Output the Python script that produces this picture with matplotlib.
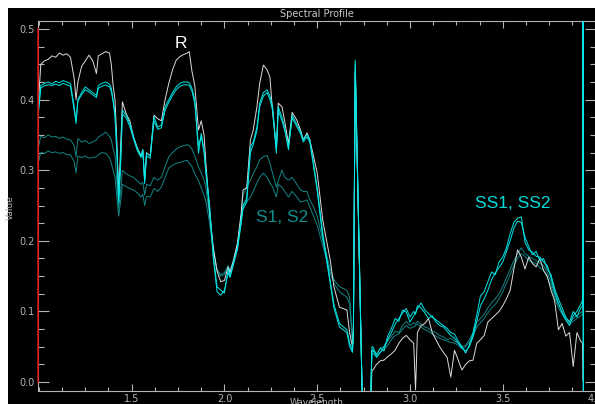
import matplotlib
matplotlib.use('Agg')
import matplotlib.pyplot as plt
from matplotlib.patches import Rectangle
from matplotlib.ticker import MultipleLocator, FormatStrFormatter

# --- Colours (ENVI-style spectral profile window) ---
COLOR_R      = '#dcdcdc'
COLOR_SS     = '#00e6e6'
COLOR_S      = '#138585'
COLOR_AXIS   = '#b4b4b4'
COLOR_CURSOR = '#d01010'
LINE_W       = 0.7

# --- Data: wavelength (micrometres) and reflectance per spectrum ---
wavelength = [
    # 1.0 - 2.07
    0.995, 1.01, 1.03, 1.05, 1.07, 1.09, 1.11, 1.13, 1.15, 1.17,
    1.19, 1.20, 1.21, 1.23, 1.25, 1.27, 1.29, 1.31, 1.32, 1.34,
    1.36, 1.38, 1.39, 1.40, 1.41, 1.42, 1.43, 1.44, 1.45, 1.47,
    1.49, 1.51, 1.53, 1.55, 1.56, 1.57, 1.58, 1.60, 1.62, 1.64,
    1.66, 1.68, 1.70, 1.72, 1.74, 1.76, 1.78, 1.80, 1.81, 1.825,
    1.84, 1.86, 1.875, 1.89, 1.90, 1.92, 1.94, 1.96, 1.98, 2.00,
    2.02, 2.03, 2.05, 2.07,
    # 2.09 - 2.69
    2.09, 2.10, 2.12, 2.14, 2.155, 2.175, 2.19, 2.21, 2.23, 2.245,
    2.26, 2.28, 2.29, 2.31, 2.325, 2.345, 2.365, 2.39, 2.41, 2.425,
    2.445, 2.46, 2.48, 2.50, 2.53, 2.57, 2.59, 2.62, 2.66, 2.675, 2.69,
    # spike around 2.7
    2.695, 2.705, 2.745, 2.785, 2.795,
    # 2.8 - 3.93
    2.80, 2.82, 2.84, 2.86, 2.88, 2.90, 2.92, 2.94, 2.96, 2.98,
    3.00, 3.02, 3.03, 3.04, 3.06, 3.08, 3.10, 3.12, 3.14, 3.16,
    3.18, 3.20, 3.22, 3.24, 3.26, 3.28, 3.30, 3.32, 3.34, 3.36,
    3.38, 3.40, 3.42, 3.44, 3.46, 3.48, 3.50, 3.52, 3.54, 3.56,
    3.58, 3.60, 3.62, 3.64, 3.66, 3.68, 3.70, 3.72, 3.74, 3.76,
    3.78, 3.80, 3.82, 3.84, 3.86, 3.88, 3.90, 3.92, 3.93,
    # bad bands at the end
    3.933, 3.935,
]

refl_R = [
    0.385, 0.45, 0.455, 0.457, 0.462, 0.46, 0.466, 0.463, 0.465, 0.46,
    0.43, 0.40, 0.425, 0.447, 0.455, 0.463, 0.455, 0.437, 0.462, 0.465,
    0.468, 0.466, 0.45, 0.42, 0.40, 0.34, 0.265, 0.33, 0.397, 0.38,
    0.37, 0.347, 0.332, 0.32, 0.329, 0.286, 0.325, 0.32, 0.378, 0.373,
    0.37, 0.40, 0.423, 0.442, 0.456, 0.461, 0.464, 0.466, 0.468, 0.44,
    0.42, 0.357, 0.37, 0.35, 0.31, 0.24, 0.19, 0.157, 0.142, 0.144,
    0.163, 0.155, 0.173, 0.197,
    0.239, 0.272, 0.275, 0.343, 0.357, 0.39, 0.423, 0.449, 0.442, 0.432,
    0.381, 0.329, 0.395, 0.39, 0.369, 0.338, 0.382, 0.371, 0.357, 0.343,
    0.353, 0.343, 0.32, 0.296, 0.229, 0.173, 0.135, 0.106, 0.102, 0.069, 0.05,
    0.08, 0.44, -0.05, -0.05, 0.017,
    0.017, 0.025, 0.03, 0.031, 0.036, 0.04, 0.045, 0.055, 0.062, 0.066,
    0.06, 0.055, -0.011, 0.07, 0.08, 0.083, 0.09, 0.07, 0.06, 0.05,
    0.042, 0.035, 0.007, 0.045, 0.031, 0.017, 0.025, 0.03, 0.031, 0.055,
    0.06, 0.066, 0.085, 0.09, 0.095, 0.1, 0.108, 0.118, 0.13, 0.16,
    0.187, 0.177, 0.16, 0.177, 0.168, 0.163, 0.175, 0.158, 0.15, 0.13,
    0.115, 0.074, 0.083, 0.065, 0.07, 0.022, 0.07, 0.058, 0.055,
    0.002, 0.002,
]

refl_SS1 = [
    0.38, 0.42, 0.423, 0.425, 0.422, 0.426, 0.424, 0.427, 0.425, 0.423,
    0.39, 0.366, 0.40, 0.41, 0.418, 0.414, 0.41, 0.406, 0.42, 0.423,
    0.425, 0.422, 0.416, 0.40, 0.38, 0.33, 0.26, 0.31, 0.385, 0.378,
    0.366, 0.347, 0.331, 0.32, 0.329, 0.281, 0.324, 0.32, 0.376, 0.361,
    0.364, 0.39, 0.40, 0.41, 0.418, 0.423, 0.425, 0.425, 0.424, 0.416,
    0.40, 0.324, 0.352, 0.329, 0.30, 0.25, 0.18, 0.135, 0.13, 0.126,
    0.16, 0.15, 0.17, 0.19,
    0.23, 0.25, 0.26, 0.333, 0.34, 0.361, 0.395, 0.41, 0.414, 0.405,
    0.39, 0.324, 0.39, 0.375, 0.36, 0.329, 0.378, 0.365, 0.355, 0.343,
    0.35, 0.343, 0.31, 0.275, 0.211, 0.144, 0.11, 0.083, 0.074, 0.055, 0.045,
    0.07, 0.456, -0.05, -0.05, 0.05,
    0.05, 0.038, 0.048, 0.044, 0.065, 0.076, 0.09, 0.086, 0.102, 0.099,
    0.085, 0.094, 0.098, 0.104, 0.112, 0.102, 0.097, 0.092, 0.088, 0.084,
    0.08, 0.076, 0.07, 0.068, 0.058, 0.05, 0.041, 0.052, 0.07, 0.095,
    0.122, 0.128, 0.142, 0.156, 0.152, 0.17, 0.177, 0.19, 0.21, 0.226,
    0.232, 0.234, 0.198, 0.187, 0.184, 0.178, 0.177, 0.17, 0.165, 0.148,
    0.128, 0.112, 0.098, 0.088, 0.08, 0.094, 0.1, 0.11, 0.116,
    0.9, -0.5,
]

refl_SS2 = [
    0.375, 0.416, 0.42, 0.421, 0.42, 0.422, 0.42, 0.423, 0.421, 0.419,
    0.385, 0.37, 0.398, 0.407, 0.414, 0.411, 0.407, 0.403, 0.416, 0.419,
    0.421, 0.418, 0.412, 0.397, 0.376, 0.325, 0.255, 0.305, 0.38, 0.374,
    0.362, 0.344, 0.328, 0.318, 0.326, 0.285, 0.32, 0.317, 0.37, 0.358,
    0.36, 0.385, 0.396, 0.406, 0.414, 0.419, 0.421, 0.421, 0.42, 0.412,
    0.395, 0.335, 0.348, 0.325, 0.295, 0.245, 0.175, 0.128, 0.123, 0.13,
    0.155, 0.148, 0.168, 0.188,
    0.225, 0.245, 0.255, 0.325, 0.336, 0.356, 0.39, 0.405, 0.41, 0.40,
    0.385, 0.33, 0.385, 0.37, 0.356, 0.333, 0.374, 0.362, 0.352, 0.34,
    0.347, 0.34, 0.306, 0.27, 0.205, 0.14, 0.105, 0.078, 0.07, 0.05, 0.042,
    0.065, 0.45, -0.05, -0.05, 0.045,
    0.045, 0.035, 0.042, 0.05, 0.06, 0.07, 0.082, 0.09, 0.098, 0.104,
    0.092, 0.1, 0.096, 0.108, 0.105, 0.098, 0.09, 0.094, 0.085, 0.08,
    0.078, 0.072, 0.066, 0.062, 0.055, 0.048, 0.044, 0.05, 0.064, 0.086,
    0.108, 0.118, 0.13, 0.145, 0.155, 0.162, 0.17, 0.185, 0.2, 0.218,
    0.228, 0.226, 0.205, 0.192, 0.18, 0.185, 0.172, 0.175, 0.16, 0.152,
    0.132, 0.118, 0.105, 0.092, 0.085, 0.1, 0.092, 0.105, 0.108,
    0.9, -0.5,
]

refl_S1 = [
    0.33, 0.348, 0.346, 0.35, 0.347, 0.348, 0.345, 0.347, 0.344, 0.343,
    0.335, 0.319, 0.345, 0.34, 0.342, 0.338, 0.34, 0.343, 0.347, 0.35,
    0.354, 0.348, 0.343, 0.33, 0.32, 0.285, 0.245, 0.27, 0.30, 0.295,
    0.292, 0.29, 0.285, 0.28, 0.283, 0.265, 0.28, 0.278, 0.29, 0.286,
    0.29, 0.305, 0.319, 0.325, 0.33, 0.333, 0.335, 0.336, 0.335, 0.33,
    0.32, 0.305, 0.296, 0.286, 0.275, 0.235, 0.19, 0.16, 0.152, 0.155,
    0.165, 0.158, 0.175, 0.195,
    0.235, 0.265, 0.276, 0.286, 0.295, 0.305, 0.315, 0.319, 0.321, 0.31,
    0.295, 0.276, 0.285, 0.30, 0.29, 0.286, 0.29, 0.28, 0.272, 0.27,
    0.27, 0.258, 0.248, 0.235, 0.201, 0.16, 0.145, 0.135, 0.13, 0.12, 0.06,
    0.07, 0.445, -0.05, -0.05, 0.045,
    0.045, 0.04, 0.048, 0.05, 0.058, 0.065, 0.072, 0.07, 0.08, 0.086,
    0.08, 0.084, 0.082, 0.086, 0.082, 0.078, 0.076, 0.072, 0.07, 0.066,
    0.064, 0.06, 0.062, 0.058, 0.055, 0.05, 0.052, 0.06, 0.07, 0.085,
    0.09, 0.096, 0.105, 0.112, 0.118, 0.125, 0.135, 0.148, 0.16, 0.172,
    0.182, 0.19, 0.182, 0.178, 0.175, 0.172, 0.168, 0.165, 0.155, 0.142,
    0.125, 0.11, 0.1, 0.09, 0.085, 0.09, 0.095, 0.098, 0.1,
    0.9, -0.5,
]

refl_S2 = [
    0.31, 0.325, 0.324, 0.327, 0.325, 0.326, 0.324, 0.325, 0.322, 0.322,
    0.312, 0.296, 0.32, 0.318, 0.32, 0.317, 0.318, 0.319, 0.322, 0.325,
    0.324, 0.318, 0.31, 0.30, 0.29, 0.262, 0.235, 0.255, 0.28, 0.277,
    0.274, 0.272, 0.268, 0.262, 0.266, 0.25, 0.263, 0.262, 0.274, 0.27,
    0.276, 0.29, 0.303, 0.307, 0.31, 0.311, 0.313, 0.314, 0.31, 0.305,
    0.295, 0.285, 0.275, 0.265, 0.255, 0.225, 0.185, 0.158, 0.15, 0.152,
    0.162, 0.156, 0.172, 0.19,
    0.225, 0.25, 0.255, 0.262, 0.27, 0.282, 0.29, 0.296, 0.29, 0.282,
    0.276, 0.262, 0.28, 0.276, 0.27, 0.262, 0.27, 0.262, 0.255, 0.256,
    0.258, 0.248, 0.235, 0.222, 0.193, 0.155, 0.14, 0.128, 0.12, 0.11, 0.055,
    0.065, 0.44, -0.05, -0.05, 0.04,
    0.04, 0.036, 0.042, 0.046, 0.052, 0.06, 0.066, 0.068, 0.075, 0.08,
    0.076, 0.078, 0.08, 0.082, 0.078, 0.074, 0.072, 0.068, 0.065, 0.062,
    0.06, 0.058, 0.056, 0.055, 0.052, 0.047, 0.05, 0.056, 0.065, 0.078,
    0.084, 0.09, 0.098, 0.105, 0.11, 0.118, 0.128, 0.14, 0.152, 0.165,
    0.175, 0.182, 0.178, 0.172, 0.17, 0.168, 0.162, 0.158, 0.148, 0.136,
    0.12, 0.105, 0.096, 0.088, 0.082, 0.086, 0.09, 0.094, 0.096,
    0.9, -0.5,
]

x_ticks = [1.5, 2.0, 2.5, 3.0, 3.5, 4.0]
y_ticks = [0.0, 0.1, 0.2, 0.3, 0.4, 0.5]
X_RANGE = (0.995, 4.0)
Y_RANGE = (-0.0127, 0.5118)

# --- Figure: white frame with black plot window ---
W, H = 595, 404
fig = plt.figure(figsize=(W / 100, H / 100), dpi=100)
fig.patch.set_facecolor('white')
fig.patches.append(Rectangle((8 / W, 0), 1 - 8 / W, (H - 8) / H,
                             transform=fig.transFigure, facecolor='black',
                             edgecolor='none', zorder=-5))

ax = fig.add_axes([38 / W, (H - 391) / H, 557.5 / W, (391 - 20.7) / H])
ax.set_facecolor('black')

# teal first, then white, cyan on top
ax.plot(wavelength, refl_S1, color=COLOR_S, lw=LINE_W, zorder=2)
ax.plot(wavelength, refl_S2, color=COLOR_S, lw=LINE_W, zorder=2)
ax.plot(wavelength, refl_R, color=COLOR_R, lw=LINE_W, zorder=3)
ax.plot(wavelength, refl_SS1, color=COLOR_SS, lw=LINE_W, zorder=4)
ax.plot(wavelength, refl_SS2, color=COLOR_SS, lw=LINE_W, zorder=4)

ax.set_xlim(*X_RANGE)
ax.set_ylim(*Y_RANGE)

# red band cursor on the left axis
ax.plot([X_RANGE[0], X_RANGE[0]], [0.0, 0.5], color=COLOR_CURSOR, lw=1.2,
        clip_on=False, zorder=6)

# --- Axes styling ---
for spine in ax.spines.values():
    spine.set_edgecolor(COLOR_AXIS)
    spine.set_linewidth(0.8)

ax.set_xticks(x_ticks)
ax.set_yticks(y_ticks)
ax.xaxis.set_minor_locator(MultipleLocator(0.125))
ax.yaxis.set_minor_locator(MultipleLocator(0.025))
ax.xaxis.set_major_formatter(FormatStrFormatter('%.1f'))
ax.yaxis.set_major_formatter(FormatStrFormatter('%.1f'))

ax.tick_params(axis='x', which='major', direction='in', length=5, width=0.8,
               color=COLOR_AXIS, labelcolor=COLOR_AXIS, labelsize=7, pad=2,
               top=True)
ax.tick_params(axis='x', which='minor', direction='in', length=2.7, width=0.8,
               color=COLOR_AXIS, top=True)
ax.tick_params(axis='y', which='major', direction='in', length=8, width=0.8,
               color=COLOR_AXIS, labelcolor=COLOR_AXIS, labelsize=7, pad=2.5,
               right=True)
ax.tick_params(axis='y', which='minor', direction='in', length=4.3, width=0.8,
               color=COLOR_AXIS, right=True)

# --- Spectrum labels ---
ax.text(1.764, 0.480, 'R', color='white', fontsize=12.5,
        family='Liberation Sans', ha='center', va='center')
ax.text(2.309, 0.2337, 'S1, S2', color='#118c8c', fontsize=12.5,
        family='Liberation Sans', ha='center', va='center')
ax.text(3.554, 0.2535, 'SS1, SS2', color='#00dcdc', fontsize=12.5,
        family='Liberation Sans', ha='center', va='center')

# --- Window texts ---
fig.text(317 / W, 1 - 14 / H, 'Spectral Profile', ha='center', va='center',
         fontsize=7, color='#c8c8c8')
fig.text(317 / W, (H - 398) / H, 'Wavelength', ha='center', va='top',
         fontsize=6.5, color=COLOR_AXIS)
fig.text(10 / W, 1 - 208 / H, 'Value', ha='center', va='center', rotation=90,
         fontsize=6.5, color=COLOR_AXIS)

fig.savefig('out.png', dpi=100, facecolor='white')
